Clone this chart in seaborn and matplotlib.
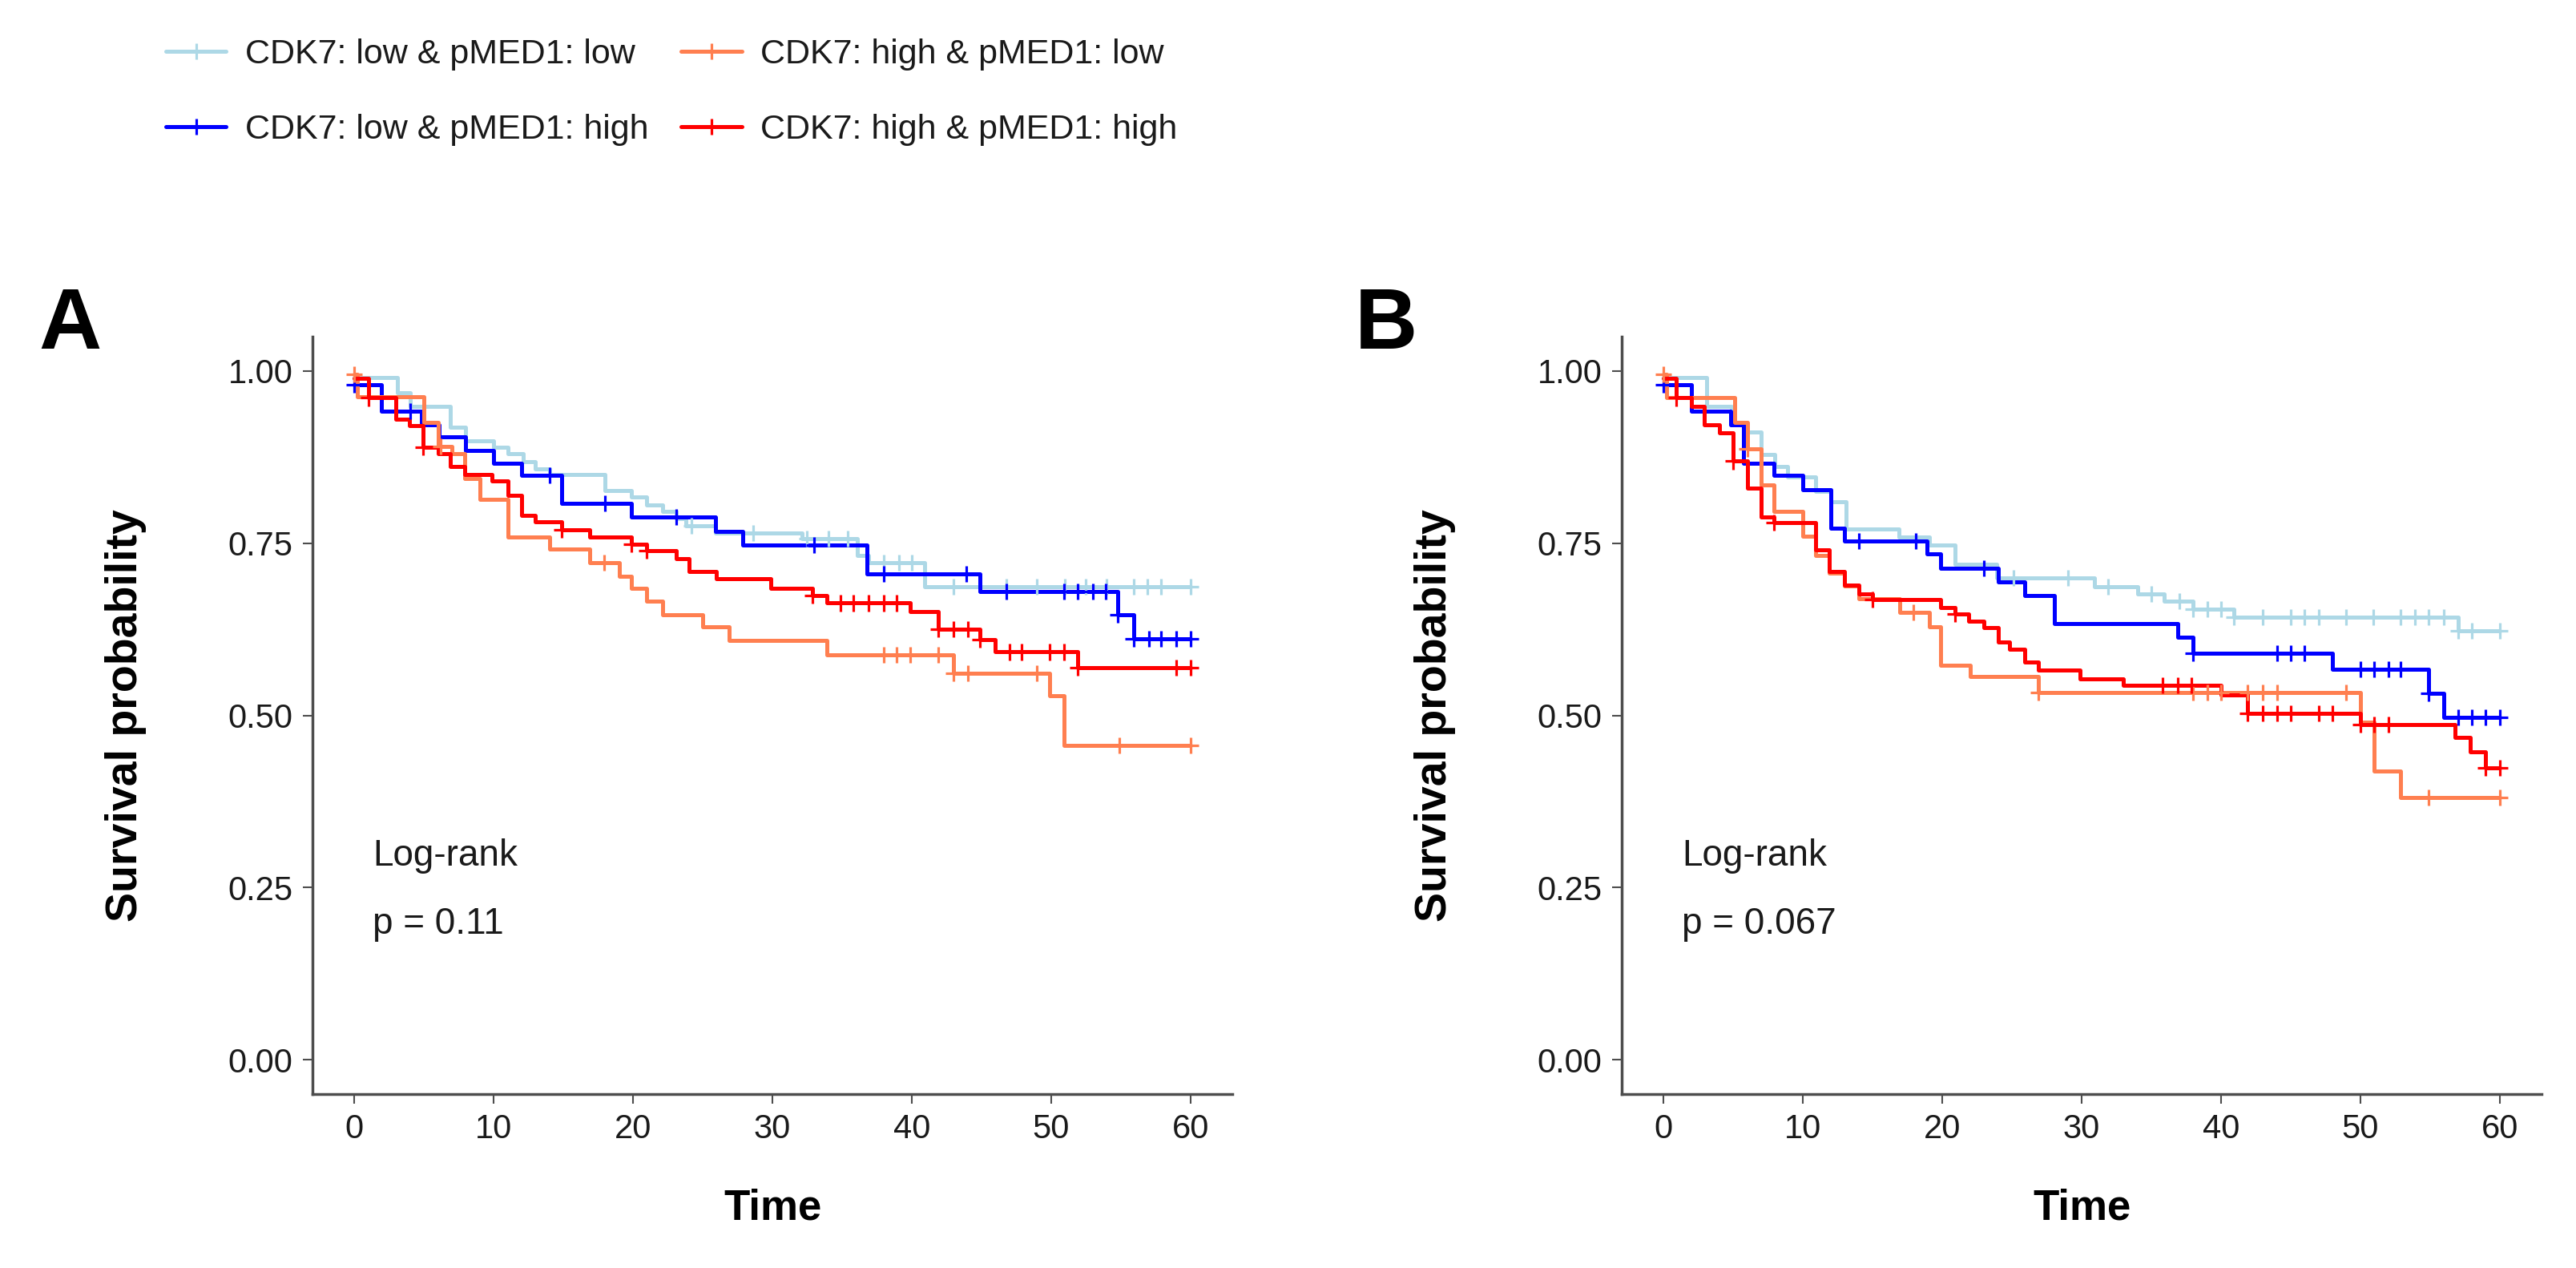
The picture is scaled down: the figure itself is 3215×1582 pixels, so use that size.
import numpy as np
import pandas as pd
import matplotlib
matplotlib.use("Agg")
import matplotlib.pyplot as plt
from matplotlib.lines import Line2D
import seaborn as sns

groups = ["CDK7: low & pMED1: low", "CDK7: low & pMED1: high",
          "CDK7: high & pMED1: low", "CDK7: high & pMED1: high"]
colors = ["#ADD8E6", "#0000FF", "#FF7F50", "#FF0000"]

# ---- panel A ----
a_ll_t = [0, 3.1, 4.0, 6.9, 8.0, 10.0, 11.0, 12.1, 13.0, 14.0, 18.0, 19.9, 21.0, 22.1, 23.1, 23.8, 25.9, 32.1, 36.1, 36.9, 40.9]
a_ll_s = [0.991, 0.969, 0.949, 0.918, 0.899, 0.889, 0.880, 0.868, 0.858, 0.850, 0.827, 0.817, 0.806, 0.796, 0.786, 0.775, 0.765, 0.757, 0.732, 0.722, 0.687]
a_ll_c = [24.2, 28.6, 32.5, 34.0, 35.4, 38.0, 39.1, 40.0, 43.0, 46.8, 49.0, 51.0, 52.5, 54.0, 55.9, 56.9, 57.9, 60.0]

a_lh_t = [0, 1.95, 4.8, 6.1, 8.0, 10.0, 12.0, 14.9, 19.9, 25.9, 27.9, 36.8, 44.9, 54.8, 55.9]
a_lh_s = [0.980, 0.942, 0.922, 0.905, 0.885, 0.866, 0.849, 0.808, 0.788, 0.767, 0.747, 0.705, 0.680, 0.646, 0.611]
a_lh_c = [0.0, 4.0, 14.0, 18.0, 23.1, 33.0, 38.0, 43.9, 46.8, 50.9, 51.9, 53.0, 53.9, 54.8, 55.9, 57.0, 57.9, 59.0, 60.0]

a_hl_t = [0, 0.2, 5.0, 6.0, 7.0, 7.9, 9.0, 11.0, 14.0, 16.9, 19.0, 19.9, 21.0, 22.1, 25.0, 26.9, 33.9, 43.0, 49.9, 50.9]
a_hl_s = [0.995, 0.963, 0.926, 0.891, 0.880, 0.844, 0.814, 0.759, 0.742, 0.722, 0.702, 0.685, 0.666, 0.646, 0.629, 0.609, 0.588, 0.561, 0.528, 0.456]
a_hl_c = [0.0, 6.2, 17.9, 38.0, 38.9, 39.9, 41.9, 43.0, 44.0, 49.0, 54.9, 60.0]

a_hh_t = [0, 1.0, 3.0, 3.95, 4.95, 6.0, 6.9, 7.9, 9.9, 11.0, 12.0, 13.0, 14.9, 16.9, 19.9, 21.0, 23.1, 24.0, 26.0, 29.9, 32.9, 33.9, 39.9, 41.9, 44.9, 46.0, 51.9]
a_hh_s = [0.990, 0.961, 0.930, 0.921, 0.889, 0.880, 0.862, 0.850, 0.840, 0.819, 0.790, 0.781, 0.769, 0.759, 0.749, 0.739, 0.728, 0.709, 0.698, 0.685, 0.674, 0.663, 0.651, 0.625, 0.610, 0.592, 0.569]
a_hh_c = [1.0, 4.95, 14.9, 19.9, 21.0, 32.9, 34.9, 35.8, 36.9, 38.0, 38.9, 41.9, 43.0, 44.0, 44.9, 47.0, 47.9, 49.9, 50.9, 51.9, 59.0, 60.0]

# ---- panel B ----
b_ll_t = [0, 3.1, 4.9, 6.0, 7.0, 8.0, 8.9, 10.9, 12.0, 13.1, 16.9, 19.1, 20.9, 23.9, 30.9, 34.0, 35.9, 38.0, 40.9, 57.0]
b_ll_s = [0.991, 0.949, 0.922, 0.912, 0.879, 0.862, 0.846, 0.825, 0.810, 0.771, 0.759, 0.747, 0.720, 0.700, 0.687, 0.676, 0.666, 0.654, 0.643, 0.623]
b_ll_c = [25.1, 29.0, 31.9, 35.0, 37.0, 38.0, 39.0, 40.0, 40.9, 43.0, 45.0, 46.0, 47.0, 49.0, 50.9, 52.9, 53.9, 54.9, 56.0, 57.0, 58.0, 60.0]

b_lh_t = [0, 2.0, 4.8, 5.75, 7.95, 10.0, 12.0, 13.0, 18.9, 19.9, 24.0, 25.9, 28.05, 36.9, 38.0, 48.0, 54.9, 56.0]
b_lh_s = [0.980, 0.942, 0.922, 0.866, 0.849, 0.828, 0.772, 0.753, 0.734, 0.714, 0.694, 0.674, 0.633, 0.613, 0.590, 0.567, 0.532, 0.497]
b_lh_c = [0.0, 14.0, 18.1, 23.0, 38.0, 44.0, 45.0, 46.0, 50.0, 51.0, 52.0, 52.9, 54.9, 57.0, 58.0, 59.0, 60.0]

b_hl_t = [0, 0.2, 5.1, 6.0, 7.0, 7.95, 10.0, 10.9, 11.9, 13.0, 14.0, 16.95, 19.05, 19.9, 22.0, 26.9, 50.0, 51.0, 52.9]
b_hl_s = [0.995, 0.961, 0.926, 0.887, 0.835, 0.796, 0.760, 0.732, 0.707, 0.688, 0.669, 0.650, 0.629, 0.573, 0.556, 0.533, 0.490, 0.419, 0.381]
b_hl_c = [0.0, 6.0, 17.95, 26.9, 38.0, 39.0, 40.0, 41.9, 43.0, 44.0, 49.0, 54.9, 60.0]

b_hh_t = [0, 0.9, 2.0, 2.9, 4.0, 5.0, 6.0, 7.0, 7.95, 10.9, 11.9, 13.0, 14.0, 15.0, 19.9, 20.9, 21.9, 23.0, 24.0, 24.8, 25.9, 26.9, 29.9, 33.0, 40.0, 41.9, 50.0, 56.8, 57.9, 59.0]
b_hh_s = [0.990, 0.961, 0.949, 0.922, 0.910, 0.869, 0.830, 0.788, 0.780, 0.740, 0.709, 0.689, 0.676, 0.668, 0.656, 0.647, 0.637, 0.627, 0.607, 0.596, 0.577, 0.566, 0.553, 0.544, 0.530, 0.503, 0.487, 0.468, 0.447, 0.424]
b_hh_c = [0.9, 5.0, 7.95, 15.0, 20.9, 35.8, 36.9, 37.9, 41.9, 43.0, 44.0, 45.0, 47.0, 48.0, 50.0, 51.0, 52.0, 59.0, 60.0]

pvals = ["p = 0.11", "p = 0.067"]
panel_tags = ["A", "B"]


def build(curves):
    lines, cens = [], []
    for g, (t, s, c) in zip(groups, curves):
        tt = list(t) + [max(c)]
        ss = list(s) + [s[-1]]
        lines.append(pd.DataFrame({"group": g, "time": tt, "surv": ss}))
        idx = np.searchsorted(t, c, side="right") - 1
        cens.append(pd.DataFrame({"group": g, "time": c, "surv": np.array(s)[idx]}))
    return pd.concat(lines, ignore_index=True), pd.concat(cens, ignore_index=True)


sns.set_style("ticks")
plt.rcParams["font.family"] = ["Liberation Sans", "DejaVu Sans"]
plt.rcParams["text.color"] = "black"
plt.rcParams["axes.labelcolor"] = "black"

fig = plt.figure(figsize=(32.15, 15.82), dpi=100)
W, H = 3215, 1582
axA = fig.add_axes([390 / W, 217 / H, 1148 / W, 945 / H])
axB = fig.add_axes([2024 / W, 217 / H, 1148 / W, 945 / H])

panels = [
    build([(a_ll_t, a_ll_s, a_ll_c), (a_lh_t, a_lh_s, a_lh_c),
           (a_hl_t, a_hl_s, a_hl_c), (a_hh_t, a_hh_s, a_hh_c)]),
    build([(b_ll_t, b_ll_s, b_ll_c), (b_lh_t, b_lh_s, b_lh_c),
           (b_hl_t, b_hl_s, b_hl_c), (b_hh_t, b_hh_s, b_hh_c)]),
]

axis_col = "#4d4d4d"
for ax, (line_df, cens_df), pv in zip([axA, axB], panels, pvals):
    sns.lineplot(data=line_df, x="time", y="surv", hue="group", hue_order=groups,
                 palette=colors, drawstyle="steps-post", estimator=None,
                 linewidth=3.6, legend=False, ax=ax)
    sns.scatterplot(data=cens_df, x="time", y="surv", hue="group", hue_order=groups,
                    palette=colors, marker="+", s=210, linewidth=2.3,
                    legend=False, ax=ax, zorder=3)
    ax.set_xlim(-3, 63)
    ax.set_ylim(-0.05, 1.05)
    ax.set_xticks([0, 10, 20, 30, 40, 50, 60])
    ax.set_yticks([0, 0.25, 0.5, 0.75, 1.0])
    ax.set_yticklabels(["0.00", "0.25", "0.50", "0.75", "1.00"])
    ax.tick_params(labelsize=30, length=8.5, width=1.5, color=axis_col, pad=9, labelcolor="#1a1a1a")
    sns.despine(ax=ax)
    for sp in ["left", "bottom"]:
        ax.spines[sp].set_linewidth(2.5)
        ax.spines[sp].set_color(axis_col)
    ax.set_xlabel("Time", fontsize=38, fontweight="bold", labelpad=38)
    ax.set_ylabel("Survival probability", fontsize=40, fontweight="bold", labelpad=73)
    ax.text(1.3, 0.296, "Log-rank", fontsize=33, ha="left", va="center", color="#1a1a1a")
    ax.text(1.3, 0.197, pv, fontsize=33, ha="left", va="center", color="#1a1a1a")

fig.text(48 / W, 1 - 435 / H, panel_tags[0], fontsize=78, fontweight="bold", va="baseline")
fig.text(1691 / W, 1 - 435 / H, panel_tags[1], fontsize=78, fontweight="bold", va="baseline")

handles = [Line2D([0], [0], color=c, lw=3.6, marker="+", markersize=14, mew=2.3) for c in colors]
fig.legend(handles, groups, loc="upper left", bbox_to_anchor=(207 / W, 1 - 48 / H),
           ncol=2, frameon=False, fontsize=31, handlelength=1.75, handletextpad=0.55,
           columnspacing=0.95, labelspacing=1.25, borderpad=0, borderaxespad=0,
           labelcolor="#1a1a1a")

fig.savefig("out.png", dpi=100, facecolor="white")
